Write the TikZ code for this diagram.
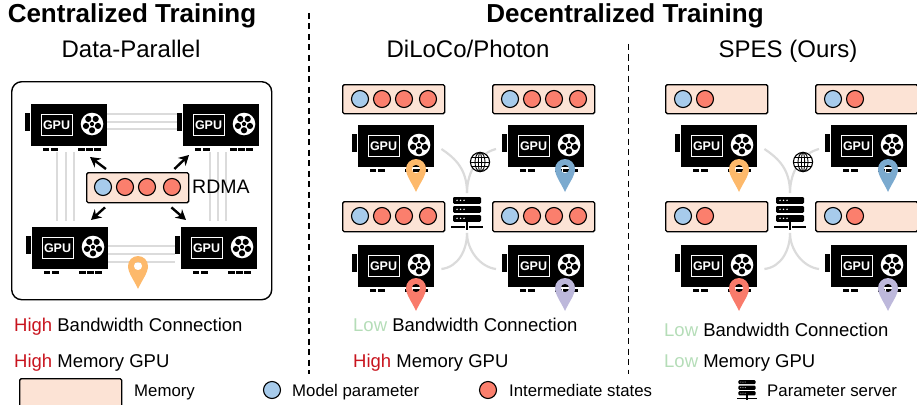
\documentclass[tikz,border=0pt]{standalone}
\usepackage{fontspec}
\setmainfont{Liberation Sans}
\usetikzlibrary{arrows.meta,calc}
\definecolor{memc}{HTML}{FCE3D5}
\definecolor{dotblue}{HTML}{A7CBEB}
\definecolor{dotred}{HTML}{FB7F6D}
\definecolor{pinorange}{HTML}{FDB96B}
\definecolor{pinblue}{HTML}{7BAACF}
\definecolor{pinred}{HTML}{F97B6B}
\definecolor{pinpurple}{HTML}{BDB8DB}
\definecolor{linkgray}{HTML}{DBDBDB}
\definecolor{highc}{HTML}{C8141E}
\definecolor{lowc}{HTML}{B5DDB8}
\tikzset{
  membox/.style={draw=black,fill=memc,line width=1.4pt,rounded corners=1.5pt,anchor=north west,inner sep=0pt},
  pdot/.style={circle,draw=black,line width=1.1pt,minimum size=17pt,inner sep=0pt},
  link/.style={draw=linkgray,line width=2.2pt},
  curvelink/.style={draw=linkgray,line width=2.2pt},
  bigarrow/.style={-{Stealth[length=10pt,width=11pt]},line width=2.4pt,black},
  title/.style={font=\bfseries\fontsize{26}{28}\selectfont,inner sep=0pt,anchor=base},
  sub/.style={font=\fontsize{24}{26}\selectfont,inner sep=0pt,anchor=base},
  body/.style={font=\fontsize{18.5}{22}\selectfont,inner sep=0pt,anchor=base west},
  legend/.style={font=\fontsize{16.8}{20}\selectfont,inner sep=0pt,anchor=base west},
  gpucard/.pic={
    \node[fill=black,minimum width=76pt,minimum height=42pt,inner sep=0pt,anchor=north west] (-body) at (0,0) {};
    \node[fill=black,minimum width=4.5pt,minimum height=18pt,inner sep=0pt,anchor=north west] (-slot) at (-6,9) {};
    \node[draw=white,line width=1.1pt,minimum width=31pt,minimum height=21pt,inner sep=0pt,anchor=north west,text=white,font=\bfseries\fontsize{12.5}{13}\selectfont] (-chip) at (9.5,10) {GPU};
    \fill[white] (61,20) circle[radius=11.3];
    \foreach \a in {90,162,234,306,18}{
      \fill[black] (61,20) ++(\a:6.3) circle[radius=3.1];
    }
    \fill[black] (61,20) circle[radius=2.1];
    \foreach \xa/\xb in {12/18,20/27,47/54,55/62,63/70}{
      \fill[black] (\xa,44) rectangle (\xb,47);
    }
  },
  pin/.pic={
    \path[fill=#1,even odd rule] (-10,0) arc[start angle=180,end angle=360,radius=10]
      .. controls (10,7) and (4,14) .. (0,23) .. controls (-4,14) and (-10,7) .. (-10,0) -- cycle
      (0,0) circle[radius=4.2];
  },
  server/.pic={
    \foreach \yy in {0,9,18}{
      \fill[black,rounded corners=1.2pt] (-14,\yy) rectangle (14,\yy+6.8);
      \foreach \xx in {-10,-6.5,-3}{\fill[white] (\xx,\yy+3.3) circle[radius=0.8];}
    }
    \draw[black,line width=1.4pt] (0,24) -- (0,33);
    \draw[black,line width=1.4pt] (-16,30) -- (-2,30) (2,30) -- (16,30);
  },
  globe/.pic={
    \fill[white] (0,0) circle[radius=10];
    \draw[black,line width=1.1pt] (0,0) circle[radius=9.6];
    \draw[black,line width=0.9pt] (0,0) ellipse[x radius=5,y radius=9.6] (0,0) ellipse[x radius=1.6,y radius=9.6];
    \draw[black,line width=0.9pt] (-9.6,0) -- (9.6,0) (-8.2,-4.8) -- (8.2,-4.8) (-8.2,4.8) -- (8.2,4.8);
  },
}
\newcommand{\memrow}[8]{% name,x,y,w,h,cy offset,blue list,red list
  \node[membox,minimum width=#4pt,minimum height=#5pt] (#1) at (#2,#3) {};
  \foreach \o in {#7}{\node[pdot,fill=dotblue] (#1-b\o) at ($(#1.north west)+(\o,#6)$) {};}
  \foreach \o in {#8}{\node[pdot,fill=dotred] (#1-r\o) at ($(#1.north west)+(\o,#6)$) {};}
}
\newcommand{\panel}[3]{% prefix, x offset, red list
  \pic (#11) at (358+#2,125) {gpucard};
  \pic (#12) at (508+#2,125) {gpucard};
  \pic (#13) at (358+#2,245) {gpucard};
  \pic (#14) at (508+#2,245) {gpucard};
  \coordinate (#1s1) at (467+#2,193);
  \coordinate (#1s2) at (467+#2,233);
  \draw[curvelink] ([shift={(7,24)}]#11-body.north east) .. controls ([shift={(22,34)}]#11-body.north east) and (467+#2,170) .. (#1s1);
  \draw[curvelink] ([shift={(-6,15)}]#12-slot.north west) .. controls ([shift={(-22,19)}]#12-slot.north west) and (467+#2,170) .. (#1s1);
  \draw[curvelink] ([shift={(7,24)}]#13-body.north east) .. controls ([shift={(24,22)}]#13-body.north east) and (467+#2,250) .. (#1s2);
  \draw[curvelink] ([shift={(-6,15)}]#14-slot.north west) .. controls ([shift={(-22,13)}]#14-slot.north west) and (467+#2,250) .. (#1s2);
  \pic (#1srv) at (467+#2,197) {server};
  \pic (#1glb) at (480+#2,162) {globe};
  \memrow{#1m1}{342+#2}{84}{102}{29}{15}{18}{#3}
  \memrow{#1m2}{492+#2}{84}{102}{29}{15}{18}{#3}
  \memrow{#1m3}{342+#2}{201}{102}{30}{15}{18}{#3}
  \memrow{#1m4}{492+#2}{201}{102}{30}{15}{18}{#3}
  \pic at (416+#2,169) {pin=pinorange};
  \pic at (565+#2,169) {pin=pinblue};
  \pic at (416+#2,288) {pin=pinred};
  \pic at (565+#2,288) {pin=pinpurple};
}
\begin{document}
\begin{tikzpicture}[x=1pt,y=-1pt]
\useasboundingbox (0,0) rectangle (917,404);
\clip (0,0) rectangle (917,404);
% titles
\node[title] (t1) at (132,23) {Centralized Training};
\node[title] (t2) at (625,23) {Decentralized Training};
\node[sub] (s1) at (131,58) {Data-Parallel};
\node[sub] (s2) at (468,58) {DiLoCo/Photon};
\node[sub] (s3) at (788,58) {SPES (Ours)};
% dividers
\coordinate (d1a) at (309,13); \coordinate (d1b) at (309,374);
\coordinate (d2a) at (628.5,44); \coordinate (d2b) at (628.5,374);
\draw[black,line width=1.4pt,dash pattern=on 6pt off 4.5pt] (d1a) -- (d1b);
\draw[black,line width=1.4pt,dash pattern=on 6pt off 4.5pt] (d2a) -- (d2b);
% central
\node[draw=black,line width=1.4pt,rounded corners=10pt,minimum width=260pt,minimum height=218pt,anchor=north west,inner sep=0pt] (frame) at (11,81) {};
\pic (a1) at (31,104) {gpucard};
\pic (a2) at (183,104) {gpucard};
\pic (a3) at (32,227) {gpucard};
\pic (a4) at (181,227) {gpucard};
\foreach \d in {-4,3,11}{
  \draw[link] ([yshift=\d pt]a1-body.east) -- ([yshift=\d pt]a1-body.east -| a2-slot.west);
}
\foreach \d in {-14,-6,2}{
  \draw[link] ([yshift=\d pt]a3-body.east) -- ([yshift=\d pt]a3-body.east -| a4-slot.west);
}
\foreach \d in {26,35,43}{
  \draw[link] ([xshift=\d pt,yshift=-6pt]a1-body.south west) -- ([xshift=\d-1 pt,yshift=6pt]a3-body.north west);
}
\foreach \d in {27,35,43}{
  \draw[link] ([xshift=\d pt,yshift=-6pt]a2-body.south west) -- ([xshift=\d+2 pt,yshift=6pt]a4-body.north west);
}
\memrow{mc}{86}{172}{102}{30}{15}{17}{39,61,86}
\node[font=\fontsize{19.5}{22}\selectfont,inner sep=0pt,anchor=west] (rdma) at (192,187) {RDMA};
\coordinate (ar1) at (90,157); \coordinate (ar2) at (189,155); \coordinate (ar3) at (91,220); \coordinate (ar4) at (186,220);
\draw[bigarrow] ([shift={(20,-3)}]mc.north west) -- (ar1);
\draw[bigarrow] ([shift={(-15,-3)}]mc.north east) -- (ar2);
\draw[bigarrow] ([shift={(19,4)}]mc.south west) -- (ar3);
\draw[bigarrow] ([shift={(-18,4)}]mc.south east) -- (ar4);
\pic at (138,266) {pin=pinorange};
% decentralized panels
\panel{d}{0}{40,62,86}
\panel{s}{323}{40}
% body texts
\node[body] (h1) at (14,331) {\textcolor{highc}{High} Bandwidth Connection};
\node[body] (h2) at (14,367) {\textcolor{highc}{High} Memory GPU};
\node[body] (h3) at (353,331) {\textcolor{lowc}{Low} Bandwidth Connection};
\node[body] (h4) at (353,367) {\textcolor{highc}{High} Memory GPU};
\node[body] (h5) at (664,336) {\textcolor{lowc}{Low} Bandwidth Connection};
\node[body] (h6) at (664,367) {\textcolor{lowc}{Low} Memory GPU};
% legend
\node[membox,minimum width=102pt,minimum height=40pt] (lm) at (19,378) {};
\node[legend] (l1) at (134,396) {Memory};
\node[pdot,fill=dotblue] (l2c) at (272,390) {};
\node[legend] (l2) at (292,396) {Model parameter};
\node[pdot,fill=dotred] (l3c) at (488,390) {};
\node[legend] (l3) at (509,396) {Intermediate states};
\pic[scale=0.62] (lsrv) at (747,380) {server};
\node[legend] (l4) at (767,396) {Parameter server};
\end{tikzpicture}
\end{document}
